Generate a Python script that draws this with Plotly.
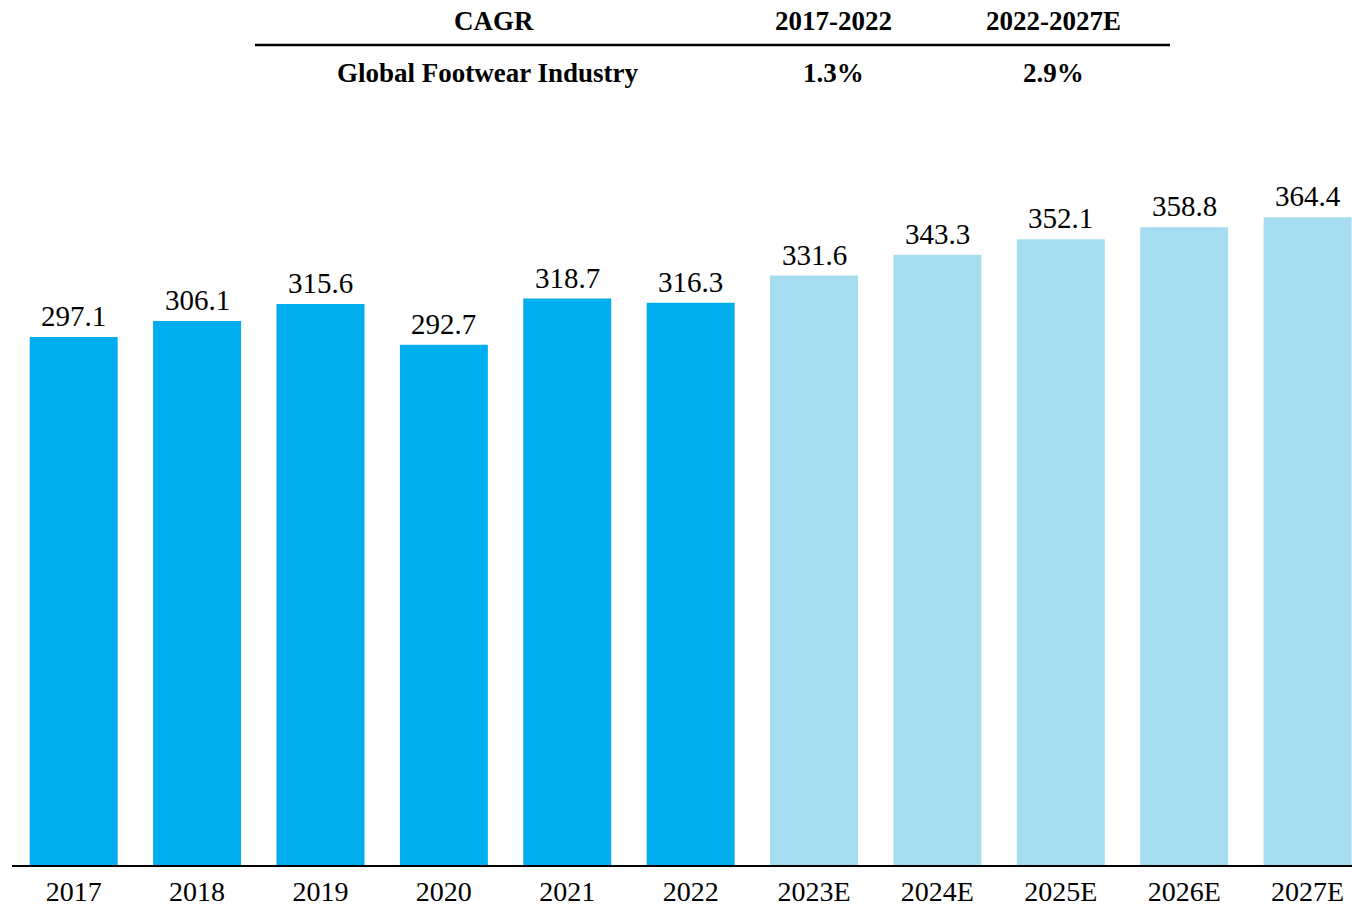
import plotly.graph_objects as go

years = ["2017", "2018", "2019", "2020", "2021", "2022",
         "2023E", "2024E", "2025E", "2026E", "2027E"]
values = [297.1, 306.1, 315.6, 292.7, 318.7, 316.3,
          331.6, 343.3, 352.1, 358.8, 364.4]
is_estimate = [False] * 6 + [True] * 5

cagr_header = ["CAGR", "2017-2022", "2022-2027E"]
cagr_row = ["Global Footwear Industry", "1.3%", "2.9%"]

DARK = "#00AEEF"
LIGHT = "#A6DCF0"
FONT = "Liberation Serif, Times New Roman, serif"

W, H = 1352, 908
ML, MR, MT, MB = 12, 0, 150, 43
PW = W - ML - MR
PH = H - MT - MB

fig = go.Figure(go.Bar(
    x=years,
    y=values,
    marker=dict(color=[LIGHT if e else DARK for e in is_estimate], line=dict(width=0)),
    hoverinfo="x+y",
))

def px_x(p):
    return (p - ML) / PW

def px_y(p):
    return (H - MB - p) / PH

annotations = []
for i, v in enumerate(values):
    annotations.append(dict(text=f"{v:.1f}", x=i, y=v, xref="x", yref="y",
                            showarrow=False, xanchor="center", yanchor="bottom", yshift=3,
                            font=dict(family=FONT, size=29, color="black")))

for txt, cx in zip(cagr_header, [494, 834, 1053]):
    annotations.append(dict(text=f"<b>{txt}</b>", x=px_x(cx), y=px_y(21), xref="paper", yref="paper",
                            showarrow=False, xanchor="center", yanchor="middle",
                            font=dict(family=FONT, size=27, color="black")))
for txt, cx in zip(cagr_row, [488, 834, 1053]):
    annotations.append(dict(text=f"<b>{txt}</b>", x=px_x(cx), y=px_y(73), xref="paper", yref="paper",
                            showarrow=False, xanchor="center", yanchor="middle",
                            font=dict(family=FONT, size=27, color="black")))

fig.update_layout(
    width=W, height=H,
    margin=dict(l=ML, r=MR, t=MT, b=MB),
    paper_bgcolor="white", plot_bgcolor="white",
    bargap=0.287,
    showlegend=False,
    annotations=annotations,
    shapes=[dict(type="line", xref="paper", yref="paper",
                 x0=px_x(255), x1=px_x(1170), y0=px_y(45), y1=px_y(45),
                 line=dict(color="black", width=2.5))],
    xaxis=dict(type="category", range=[-0.5, 10.36], showline=True, linecolor="black", linewidth=2,
               ticks="", showgrid=False, zeroline=False, automargin=False,
               tickfont=dict(family=FONT, size=28, color="black")),
    yaxis=dict(range=[0, PH / 1.7775], visible=False, showgrid=False, zeroline=False,
               automargin=False),
)

fig.write_html("out.html")
